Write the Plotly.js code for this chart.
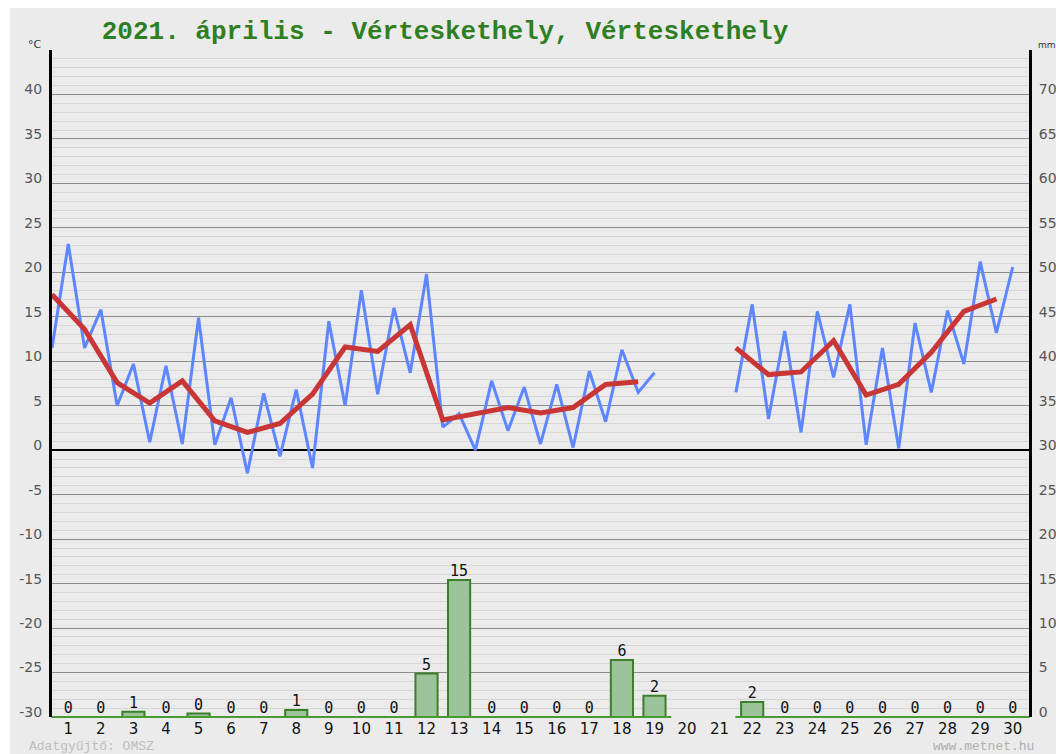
<!DOCTYPE html>
<html>
<head>
<meta charset="utf-8">
<script src="https://cdn.plot.ly/plotly-3.0.1.min.js"></script>
<style>html,body{margin:0;padding:0;background:#fff;}#chart{width:1056px;height:754px;}</style>
</head>
<body>
<div id="chart"></div>
<script>
// ---- data ----
const titleText = '2021. április - Vérteskethely, Vérteskethely';
const days = [1,2,3,4,5,6,7,8,9,10,11,12,13,14,15,16,17,18,19,20,21,22,23,24,25,26,27,28,29,30];
const tMin  = [11.5,11.5,5.0,0.9,0.7,0.6,-2.6,-0.7,-2.0,5.0,6.3,8.7,2.6,0.0,2.2,0.7,0.3,3.2,6.5,null,null,6.5,3.5,2.0,8.2,0.6,0.2,6.5,9.7,13.2];
const tMax  = [23.2,15.8,9.7,9.5,14.9,5.9,6.4,6.8,14.5,18.0,16.0,19.8,4.1,7.8,7.1,7.4,8.9,11.3,8.7,null,null,16.4,13.4,15.6,16.4,11.5,14.3,15.7,21.2,20.6];
const tMean = [17.5,13.6,7.6,5.3,7.8,3.3,2.0,3.0,6.3,11.6,11.1,14.1,3.4,4.1,4.8,4.2,4.8,7.4,7.7,null,null,11.5,8.5,8.8,12.3,6.2,7.4,11.0,15.6,17.0];
const precip = [0,0,0.6,0,0.4,0,0,0.8,0,0,0,4.9,15.4,0,0,0,0,6.4,2.4,null,null,1.7,0,0,0,0,0,0,0,0];
const tempTickVals = [-30,-25,-20,-15,-10,-5,0,5,10,15,20,25,30,35,40,45];
const tempTickText = ['-30','-25','-20','-15','-10','-5','0','5','10','15','20','25','30','35','40',''];
const mmTickVals = [0,5,10,15,20,25,30,35,40,45,50,55,60,65,70];
const dayLabels = days.map(String);

// ---- build traces ----
// blue zigzag: minimum at the start of each day, maximum at mid-day
const zx = [], zy = [];
days.forEach((d,i) => {
  if (tMin[i] === null) { zx.push(d - 0.5); zy.push(null); return; }
  zx.push(d - 0.5); zy.push(tMin[i]);
  zx.push(d); zy.push(tMax[i]);
});
const meanX = days.map(d => d - 0.5);

const pDays = days.filter((d,i) => precip[i] !== null);
const pVals = precip.filter(v => v !== null);
const pText = pVals.map(v => String(Math.round(v)));

const traces = [
  {x: pDays, y: pVals, type:'bar', yaxis:'y2', width:0.68,
   marker:{color:'#9cc39a', line:{color:'#3b7f2a', width:2}}, hoverinfo:'skip'},
  {x: pDays, y: pDays.map(() => 0), type:'scatter', mode:'markers', yaxis:'y2', cliponaxis:false,
   marker:{symbol:'line-ew', size:24, color:'#3b7f2a', line:{color:'#4a9a34', width:2}}, hoverinfo:'skip'},
  {x: pDays, y: pVals, type:'scatter', mode:'text', yaxis:'y2', text: pText, textposition:'top center', cliponaxis:false,
   textfont:{family:'DejaVu Sans Mono', size:15, color:'#111'}, hoverinfo:'skip'},
  {x: zx, y: zy, type:'scatter', mode:'lines', line:{color:'#5d86ff', width:3}, connectgaps:false, hoverinfo:'skip'},
  {x: meanX, y: tMean, type:'scatter', mode:'lines', line:{color:'#c93636', width:5}, connectgaps:false, hoverinfo:'skip'}
];

// paper coordinate helpers (plot area: x 52..1029, y 50..717)
const px = v => (v - 52) / 977;
const py = v => (717 - v) / 667;

const layout = {
  width:1056, height:754,
  margin:{l:52, r:27, t:50, b:37, pad:0},
  paper_bgcolor:'#ffffff', plot_bgcolor:'#ebebeb',
  showlegend:false,
  title:{text:titleText, x:445/1056, xanchor:'center', xref:'container', y:1-30/754, yanchor:'middle', yref:'container',
         font:{family:'Liberation Mono', size:26, color:'#2f7f22', weight:'bold'}},
  xaxis:{range:[0.5,30.5], tickmode:'array', tickvals:days, ticktext:dayLabels, showgrid:false, zeroline:false, showline:false,
         ticks:'', ticklabelstandoff:1, tickfont:{family:'DejaVu Sans', size:15, color:'#111'}, fixedrange:true},
  yaxis:{range:[-30,45], tickmode:'array', tickvals:tempTickVals, ticktext:tempTickText,
         showgrid:true, gridcolor:'#8c8c8c', gridwidth:1,
         minor:{tickmode:'linear', tick0:0, dtick:1, showgrid:true, gridcolor:'#d7d7d7', gridwidth:1, ticks:''},
         zeroline:true, zerolinecolor:'#000', zerolinewidth:1.5,
         showline:true, linecolor:'#000', linewidth:3, ticks:'', ticklabelstandoff:4, ticklabelshift:-5,
         tickfont:{family:'DejaVu Sans', size:14, color:'#555'}, fixedrange:true},
  yaxis2:{range:[0,75], overlaying:'y', side:'right', tickmode:'array', tickvals:mmTickVals,
          showgrid:false, zeroline:false, showline:true, linecolor:'#000', linewidth:3, ticks:'',
          ticklabelstandoff:4, ticklabelshift:-5, tickfont:{family:'DejaVu Sans', size:14, color:'#555'}, fixedrange:true},
  shapes:[
    {type:'rect', xref:'paper', yref:'paper', x0:px(10), x1:px(1060), y0:py(760), y1:py(8),
     fillcolor:'#ebebeb', line:{width:0}, layer:'below'}
  ],
  annotations:[
    {text:'°C', xref:'paper', yref:'paper', x:px(35), y:py(44), showarrow:false, xanchor:'center', yanchor:'middle',
     font:{family:'DejaVu Sans', size:11, color:'#333'}},
    {text:'mm', xref:'paper', yref:'paper', x:px(1036), y:py(45), showarrow:false, xanchor:'left', yanchor:'middle',
     font:{family:'DejaVu Sans', size:9, color:'#333'}},
    {text:'Adatgyűjtő: OMSZ', xref:'paper', yref:'paper', x:px(27), y:py(746.5), showarrow:false, xanchor:'left', yanchor:'middle',
     font:{family:'Liberation Mono', size:13, color:'#bdbdbd'}},
    {text:'www.metnet.hu', xref:'paper', yref:'paper', x:px(1036), y:py(746.5), showarrow:false, xanchor:'right', yanchor:'middle',
     font:{family:'Liberation Mono', size:13, color:'#b0b0b0'}}
  ]
};

Plotly.newPlot('chart', traces, layout, {staticPlot:true, displayModeBar:false});
</script>
</body>
</html>
